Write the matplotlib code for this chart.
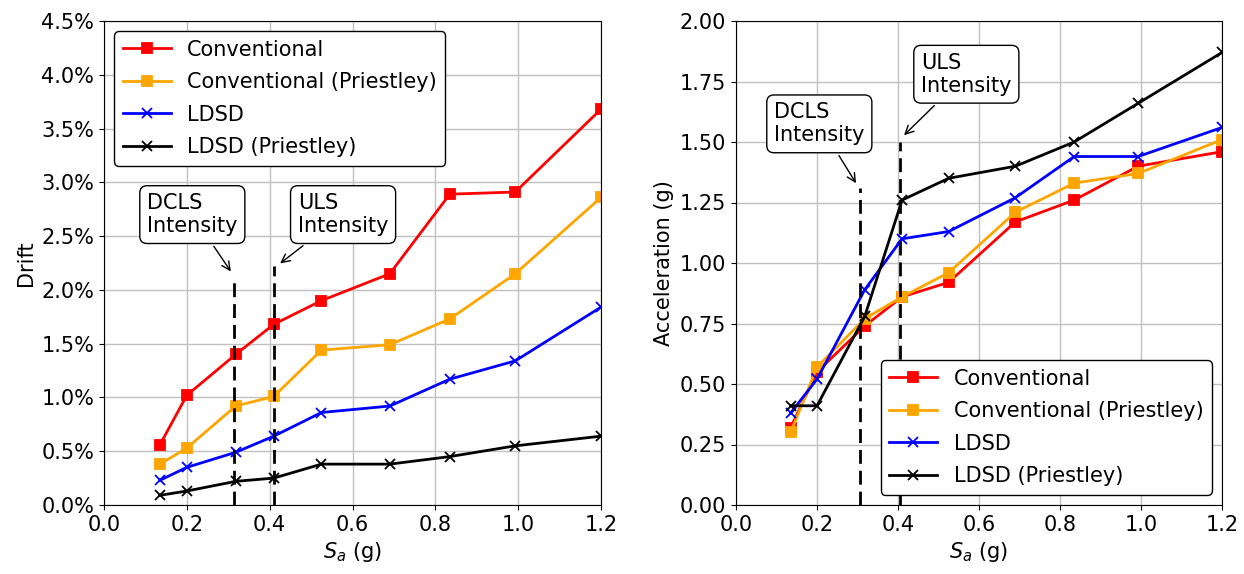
import matplotlib
matplotlib.use('Agg')
import matplotlib.pyplot as plt
from matplotlib.ticker import PercentFormatter

sa = [0.135, 0.2, 0.318, 0.41, 0.525, 0.69, 0.835, 0.993, 1.2]

drift_conv = [0.56, 1.02, 1.40, 1.68, 1.90, 2.15, 2.89, 2.91, 3.68]
drift_conv_p = [0.38, 0.53, 0.92, 1.01, 1.44, 1.49, 1.73, 2.15, 2.86]
drift_ldsd = [0.23, 0.35, 0.49, 0.64, 0.86, 0.92, 1.17, 1.34, 1.84]
drift_ldsd_p = [0.09, 0.13, 0.22, 0.25, 0.38, 0.38, 0.45, 0.55, 0.64]

acc_conv = [0.32, 0.55, 0.74, 0.86, 0.92, 1.17, 1.26, 1.40, 1.46]
acc_conv_p = [0.30, 0.57, 0.77, 0.86, 0.96, 1.21, 1.33, 1.37, 1.51]
acc_ldsd = [0.38, 0.52, 0.89, 1.10, 1.13, 1.27, 1.44, 1.44, 1.56]
acc_ldsd_p = [0.41, 0.41, 0.78, 1.26, 1.35, 1.40, 1.50, 1.66, 1.87]

labels = ['Conventional', 'Conventional (Priestley)', 'LDSD', 'LDSD (Priestley)']
dcls, uls = 0.315, 0.41

plt.rcParams['font.size'] = 15

fig = plt.figure(figsize=(12.44, 5.74), dpi=100)
ax1 = fig.add_axes([104/1244, 69/574, 497/1244, 484/574])
ax2 = fig.add_axes([736/1244, 69/574, 486/1244, 484/574])

def draw(ax, series):
    styles = [('red', 's'), ('orange', 's'), ('blue', 'x'), ('black', 'x')]
    for ys, (c, m), lab in zip(series, styles, labels):
        ax.plot(sa, ys, color=c, marker=m, lw=2, ms=7.5, mew=1.3, label=lab)
    ax.grid(True, color='#c0c0c0', lw=1)
    ax.set_xlim(0, 1.2)
    ax.set_xlabel('$S_a$ (g)')

bbox = dict(boxstyle='round,pad=0.35', fc='white', ec='black')
arrow = dict(arrowstyle='->', color='black', lw=1)
dash = (0, (5, 2.5))

# left: drift
draw(ax1, [drift_conv, drift_conv_p, drift_ldsd, drift_ldsd_p])
ax1.vlines(dcls, 0, 2.07, colors='black', linestyles=[dash], lw=2)
ax1.vlines(uls, 0, 2.22, colors='black', linestyles=[dash], lw=2)
ax1.set_ylim(0, 4.5)
ax1.set_yticks([i * 0.5 for i in range(10)])
ax1.yaxis.set_major_formatter(PercentFormatter(decimals=1))
ax1.set_ylabel('Drift')
ax1.legend(loc='upper left', fontsize=15, framealpha=1, edgecolor='black',
           handlelength=2.3, labelspacing=0.6)
ax1.annotate('DCLS\nIntensity', xy=(0.31, 2.15), xytext=(0.104, 2.70),
             bbox=bbox, arrowprops=arrow, ha='left', va='center')
ax1.annotate('ULS\nIntensity', xy=(0.42, 2.23), xytext=(0.468, 2.70),
             bbox=bbox, arrowprops=arrow, ha='left', va='center')

# right: acceleration
draw(ax2, [acc_conv, acc_conv_p, acc_ldsd, acc_ldsd_p])
ax2.vlines(dcls - 0.008, 0, 1.31, colors='black', linestyles=[dash], lw=2)
ax2.vlines(uls - 0.005, 0, 1.50, colors='black', linestyles=[dash], lw=2)
ax2.set_ylim(0, 2.0)
ax2.set_yticks([i * 0.25 for i in range(9)])
ax2.set_ylabel('Acceleration (g)')
ax2.legend(loc='lower right', fontsize=15, framealpha=1, edgecolor='black',
           handlelength=2.3, labelspacing=0.6)
ax2.annotate('DCLS\nIntensity', xy=(0.30, 1.32), xytext=(0.094, 1.575),
             bbox=bbox, arrowprops=arrow, ha='left', va='center')
ax2.annotate('ULS\nIntensity', xy=(0.41, 1.52), xytext=(0.457, 1.78),
             bbox=bbox, arrowprops=arrow, ha='left', va='center')

fig.savefig('out.png', dpi=100)
